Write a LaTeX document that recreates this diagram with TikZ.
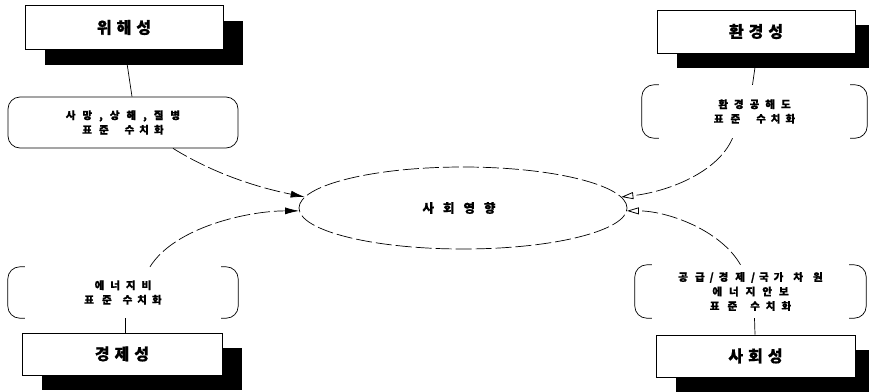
\documentclass[tikz,border=0pt]{standalone}
\usepackage{fontspec}
\newfontfamily\kr[BoldFeatures={FakeBold=0.8}]{Noto Sans CJK KR}
\newcommand\kg[1]{\hspace{#1pt}}
\usetikzlibrary{shapes.geometric,shadows,arrows.meta}
\begin{document}
\begin{tikzpicture}[x=1pt,y=-1pt,
  titlebox/.style={draw, line width=0.8pt, fill=white, minimum width=198pt,
    minimum height=44pt, inner sep=0pt, font=\kr\bfseries\fontsize{16}{18}\selectfont,
    drop shadow={shadow xshift=20pt,shadow yshift=-15pt,fill=black,opacity=1}},
  pillbox/.style={draw, line width=0.7pt, rounded corners=12pt, minimum width=230pt,
    minimum height=51pt, inner sep=0pt, align=center,
    font=\kr\bfseries\fontsize{10.5}{14.5}\selectfont},
  brackbox/.style={minimum height=53pt, inner sep=0pt, align=center,
    font=\kr\bfseries\fontsize{10.5}{14.5}\selectfont},
  brk/.style={line width=0.7pt, rounded corners=12pt},
  link/.style={line width=0.7pt, dash pattern=on 16pt off 4pt},
  fillarrow/.style={link, -{Latex[length=14pt,width=7pt]}},
  openarrow/.style={link, -{Triangle[open,length=12pt,width=7pt,line width=0.8pt]}},
  plain/.style={line width=0.7pt}
]
\useasboundingbox (0,0) rectangle (869,391);

% title boxes with shadows
\node[titlebox] (A) at (124,27.5) {위\kg5해\kg5성};
\node[titlebox, minimum height=43pt] (B) at (756,31.5) {환\kg5경\kg5성};
\node[titlebox, minimum width=200pt, minimum height=42pt] (C) at (122,354) {경\kg5제\kg5성};
\node[titlebox, minimum width=199pt, minimum height=42pt] (D) at (755.5,356) {사\kg5회\kg5성};

% standardisation boxes
\node[pillbox] (P1) at (123,122.5)
  {사\kg7망\kg7,\kg7상\kg7해\kg7,\kg7질\kg7병\\표\kg7준\kg{16}수\kg5치\kg5화};
\node[brackbox, minimum width=225pt] (P2) at (754.5,111.5)
  {환\kg6경\kg6공\kg6해\kg6도\\표\kg7준\kg{16}수\kg5치\kg5화};
\node[brackbox, minimum width=230pt, minimum height=51pt] (P3) at (123,292.5)
  {에\kg6너\kg6지\kg6비\\표\kg8준\kg{11}수\kg5치\kg5화};
\node[brackbox, minimum width=231pt] (P4) at (750.5,291.5)
  {공\kg7급\kg5/\kg5경\kg7제\kg6/\kg4국\kg5가\kg{10}차\kg{10}원\\에\kg7너\kg7지\kg7안\kg7보\\표\kg8준\kg{13}수\kg6치\kg6화};

\foreach \n in {P2,P3,P4}{
  \draw[brk] ([xshift=17pt]\n.north west) -- (\n.north west) -- (\n.south west) -- ([xshift=17pt]\n.south west);
  \draw[brk] ([xshift=-17pt]\n.north east) -- (\n.north east) -- (\n.south east) -- ([xshift=-17pt]\n.south east);
}

% central ellipse
\node[ellipse, draw, link, minimum width=328pt, minimum height=82pt, inner sep=0pt,
  font=\kr\bfseries\fontsize{12.5}{14}\selectfont] (E) at (463,208)
  {\hspace*{-8pt}사\kg{9}회\kg{9}영\kg{9}향};

% short links box <-> standardisation
\draw[plain] ([xshift=1pt]A.south) -- ([xshift=9pt]P1.north);
\draw[plain] ([xshift=1pt]B.south) -- ([xshift=-2pt]P2.north);
\draw[plain] ([xshift=2pt]P3.south) -- ([xshift=3pt]C.north);
\draw[plain] ([xshift=4pt]P4.south) -- ([xshift=-0.5pt]D.north);

% curved links into the ellipse
\draw[fillarrow] ([xshift=50pt]P1.south) .. controls +(45,28) and +(-40,-8) .. (E.176);
\draw[fillarrow] ([xshift=27pt]P3.north) .. controls +(25,-40) and +(-50,0) .. (E.181);
\draw[openarrow] ([xshift=-22pt]P2.south) .. controls +(-15,35) and +(45,-5) .. (E.4);
\draw[openarrow] ([xshift=-10pt]P4.north) .. controls +(-20,-35) and +(40,0) .. (E.-1);
\end{tikzpicture}
\end{document}
